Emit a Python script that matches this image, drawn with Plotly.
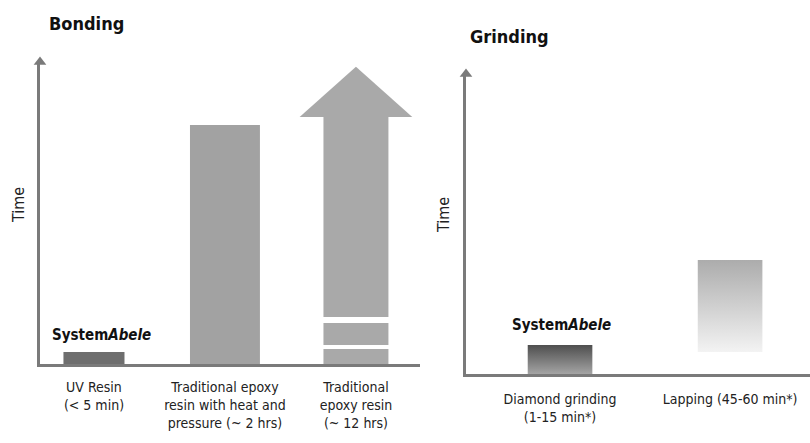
import plotly.graph_objects as go

# ---------------- data ----------------
bonding_labels = [
    "UV Resin<br>(< 5 min)",
    "Traditional epoxy<br>resin with heat and<br>pressure (~ 2 hrs)",
    "Traditional<br>epoxy resin<br>(~ 12 hrs)",
]
bonding_time = [4.0, 79.1, 81.8]          # relative time (bar tops)
bonding_open_ended = [False, False, True]  # drawn as an arrow (keeps growing)
bonding_colors = ["#6e6e6e", "#a2a2a2", "#a9a9a9"]
epoxy_gaps = [[5.0, 6.3], [13.6, 15.6]]    # white breaks in the open-ended bar

grinding_labels = ["Diamond grinding<br>(1-15 min*)", "Lapping (45-60 min*)"]
grinding_base = [0.0, 7.3]
grinding_time = [9.7, 38.0]
grinding_top_colors = ["#4e4e4e", "#acacac"]
grinding_bottom_colors = ["#a4a4a4", "#f3f3f3"]

# ---------------- style ----------------
FONT = "DejaVu Sans Condensed, sans-serif"
AXIS_COLOR = "#7a7a7a"
W, H = 810, 443
bonding_widths = [0.466, 0.534, 0.496]
head_half = 0.43
head_height = 16.6
grinding_width = 0.38

XR1 = [-0.412, 2.489]
YR1 = [0, 100]
XR2 = [-0.553, 1.47]
YR2 = [0, 100]

fig = go.Figure()

# Bonding bars
for i, (t, c, w, open_) in enumerate(zip(bonding_time, bonding_colors, bonding_widths, bonding_open_ended)):
    if not open_:
        fig.add_trace(go.Bar(x=[i], y=[t], width=w, marker=dict(color=c, line=dict(width=0)),
                             xaxis="x", yaxis="y", hoverinfo="skip", showlegend=False))
    else:
        edges = [0.0]
        for g0, g1 in epoxy_gaps:
            edges += [g0, g1]
        edges.append(t)
        for lo, hi in zip(edges[0::2], edges[1::2]):
            fig.add_trace(go.Bar(x=[i], y=[hi - lo], base=[lo], width=w,
                                 marker=dict(color=c, line=dict(width=0)),
                                 xaxis="x", yaxis="y", hoverinfo="skip", showlegend=False))
        fig.add_trace(go.Scatter(x=[i - head_half, i, i + head_half, i - head_half],
                                 y=[t, t + head_height, t, t], fill="toself", fillcolor=c,
                                 mode="lines", line=dict(width=0), xaxis="x", yaxis="y",
                                 hoverinfo="skip", showlegend=False, cliponaxis=False))

# Grinding bars (vertical gradients)
for i, (b, t, ct, cb) in enumerate(zip(grinding_base, grinding_time, grinding_top_colors, grinding_bottom_colors)):
    x0, x1 = i - grinding_width / 2, i + grinding_width / 2
    fig.add_trace(go.Scatter(x=[x0, x1, x1, x0, x0], y=[b, b, t, t, b], fill="toself",
                             fillgradient=dict(type="vertical", colorscale=[[0, cb], [1, ct]],
                                               start=b, stop=t),
                             mode="lines", line=dict(width=0), xaxis="x2", yaxis="y2",
                             hoverinfo="skip", showlegend=False))

# Axis arrowheads
fig.add_trace(go.Scatter(x=[XR1[0]], y=[YR1[1]], mode="markers",
                         marker=dict(symbol="triangle-up", size=11, color=AXIS_COLOR),
                         xaxis="x", yaxis="y", cliponaxis=False, hoverinfo="skip", showlegend=False))
fig.add_trace(go.Scatter(x=[XR2[0]], y=[YR2[1]], mode="markers",
                         marker=dict(symbol="triangle-up", size=11, color=AXIS_COLOR),
                         xaxis="x2", yaxis="y2", cliponaxis=False, hoverinfo="skip", showlegend=False))

axis_common = dict(showline=True, linecolor=AXIS_COLOR, linewidth=3, showgrid=False,
                   zeroline=False, ticks="", fixedrange=True)

fig.update_layout(
    width=W, height=H, autosize=False,
    margin=dict(l=0, r=0, t=0, b=0),
    paper_bgcolor="white", plot_bgcolor="rgba(0,0,0,0)",
    barmode="overlay", showlegend=False,
    font=dict(family=FONT, color="#222222"),
    xaxis=dict(domain=[40 / W, 420 / W], range=XR1, anchor="y",
               tickmode="array", tickvals=list(range(len(bonding_labels))), ticktext=bonding_labels,
               tickfont=dict(size=14, family=FONT, color="#222222"), ticklabelstandoff=8,
               **axis_common),
    yaxis=dict(domain=[1 - 364 / H, 1 - 62 / H], range=YR1, anchor="x", showticklabels=False,
               **axis_common),
    xaxis2=dict(domain=[466 / W, 1.0], range=XR2, anchor="y2",
                tickmode="array", tickvals=list(range(len(grinding_labels))), ticktext=grinding_labels,
                tickfont=dict(size=14, family=FONT, color="#222222"), ticklabelstandoff=10,
                **axis_common),
    yaxis2=dict(domain=[1 - 374 / H, 1 - 74 / H], range=YR2, anchor="x2", showticklabels=False,
                **axis_common),
)

ann = []
ann.append(dict(text="<b>Bonding</b>", x=47 / W, y=1 - 23 / H, xref="paper", yref="paper",
                xanchor="left", yanchor="middle", showarrow=False,
                font=dict(size=18, family=FONT, color="#111111")))
ann.append(dict(text="<b>Grinding</b>", x=468 / W, y=1 - 36 / H, xref="paper", yref="paper",
                xanchor="left", yanchor="middle", showarrow=False,
                font=dict(size=18, family=FONT, color="#111111")))
ann.append(dict(text="Time", x=18 / W, y=1 - 205 / H, xref="paper", yref="paper",
                xanchor="center", yanchor="middle",
                textangle=-90, showarrow=False, font=dict(size=16, family=FONT, color="#222222")))
ann.append(dict(text="Time", x=443 / W, y=1 - 215 / H, xref="paper", yref="paper",
                xanchor="center", yanchor="middle",
                textangle=-90, showarrow=False, font=dict(size=16, family=FONT, color="#222222")))
ann.append(dict(text="<b>System<i>Abele</i></b>", x=50 / W, y=1 - 335 / H, xref="paper", yref="paper",
                xanchor="left", yanchor="middle", showarrow=False,
                font=dict(size=15, family=FONT, color="#111111")))
ann.append(dict(text="<b>System<i>Abele</i></b>", x=510 / W, y=1 - 325 / H, xref="paper", yref="paper",
                xanchor="left", yanchor="middle", showarrow=False,
                font=dict(size=15, family=FONT, color="#111111")))
fig.update_layout(annotations=ann)

fig.write_html("out.html", config={"displayModeBar": False},
               post_script="document.body.style.margin='0';document.body.style.overflow='hidden';")
